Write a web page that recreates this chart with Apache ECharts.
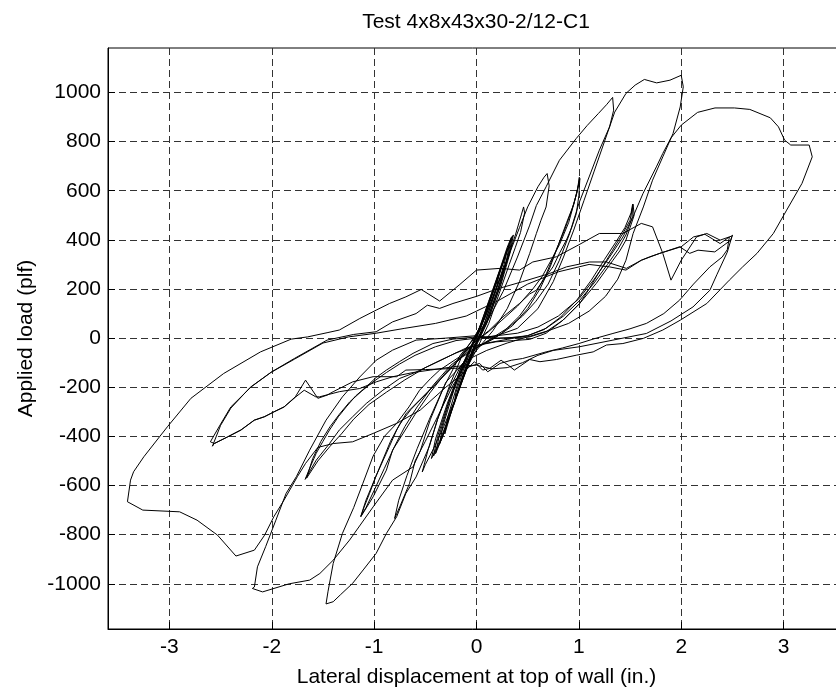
<!DOCTYPE html>
<html>
<head>
<meta charset="utf-8">
<title>Test 4x8x43x30-2/12-C1</title>
<script src="https://cdn.jsdelivr.net/npm/echarts@6.0.0/dist/echarts.min.js"></script>
<style>
  html, body { margin: 0; padding: 0; background: #fff; }
  #chart { width: 836px; height: 694px; }
</style>
</head>
<body>
<div id="chart"></div>
<script>
// tick labels
const xTicks = [-3, -2, -1, 0, 1, 2, 3]
const yTicks = [-1000, -800, -600, -400, -200, 0, 200, 400, 600, 800, 1000]

// load (plf) vs displacement (in.), one array per cycle group
const smallCycles = [
  [0, 0], [0.06, 60], [0.12, 140], [0.18, 210], [0.22, 260], [0.2, 215], [0.12, 110], [0.04, 20],
  [-0.04, -50], [-0.1, -120], [-0.17, -200], [-0.22, -270], [-0.2, -220], [-0.12, -120], [-0.04, -30],
  [0.04, 40], [0.12, 140], [0.2, 235], [0.27, 320], [0.3, 360], [0.27, 300], [0.18, 180], [0.08, 60],
  [-0.02, -30], [-0.1, -110], [-0.18, -210], [-0.26, -320], [-0.31, -390], [-0.28, -320], [-0.18, -180],
  [-0.08, -60], [0.02, 30], [0.12, 150], [0.22, 270], [0.3, 370], [0.34, 410], [0.31, 340], [0.22, 210],
  [0.1, 70], [0, -20], [-0.1, -120], [-0.2, -240], [-0.3, -360], [-0.36, -430], [-0.33, -360],
  [-0.22, -210], [-0.1, -80], [0, 10], [0.12, 150], [0.24, 290], [0.33, 395], [0.36, 420], [0.33, 350],
  [0.24, 220], [0.12, 80], [0.02, -10], [-0.1, -130], [-0.22, -270], [-0.32, -390], [-0.4, -470],
  [-0.36, -390], [-0.26, -250], [-0.12, -100], [0, 10]
]
const smallCycles2 = [
  [0, 0], [0.1, 110], [0.2, 230], [0.28, 330], [0.32, 380], [0.29, 310], [0.2, 190], [0.1, 70],
  [0, -20], [-0.12, -150], [-0.24, -290], [-0.34, -410], [-0.42, -480], [-0.38, -400], [-0.28, -270],
  [-0.16, -130], [-0.04, -20], [0.08, 90], [0.2, 240], [0.3, 360], [0.35, 415], [0.32, 345],
  [0.22, 200], [0.1, 60], [-0.02, -40], [-0.14, -170], [-0.26, -310], [-0.36, -420], [-0.44, -490],
  [-0.4, -410], [-0.28, -260], [-0.14, -110], [0, 0]
]
const cycle05 = [
  [0, 10], [0.1, 100], [0.2, 210], [0.3, 320], [0.38, 420], [0.44, 505], [0.46, 534], [0.47, 510],
  [0.43, 430], [0.38, 370], [0.32, 300], [0.22, 180], [0.12, 60], [0.02, -30], [-0.08, -110],
  [-0.2, -240], [-0.32, -360], [-0.42, -450], [-0.5, -515], [-0.53, -545], [-0.47, -450],
  [-0.38, -330], [-0.26, -190], [-0.14, -70], [0, 20]
]
const cycle07 = [
  [0, 20], [0.08, 80], [0.18, 190], [0.3, 320], [0.42, 450], [0.5, 534], [0.6, 616], [0.66, 655],
  [0.69, 670], [0.71, 620], [0.68, 534], [0.63, 480], [0.585, 426], [0.52, 345], [0.42, 230],
  [0.3, 120], [0.16, 30], [0.02, -40], [-0.1, -100], [-0.24, -200], [-0.38, -320], [-0.5, -420],
  [-0.6, -500], [-0.654, -591], [-0.75, -687], [-0.8, -734], [-0.76, -660], [-0.68, -560],
  [-0.58, -450], [-0.46, -330], [-0.32, -200], [-0.16, -70], [0, 10]
]
const cycle13 = [
  [0, 10], [0.12, 80], [0.26, 190], [0.4, 330], [0.52, 460], [0.585, 540], [0.68, 616], [0.81, 724],
  [0.975, 813], [1.08, 865], [1.19, 914], [1.27, 950], [1.33, 980], [1.34, 928], [1.3, 860],
  [1.2, 765], [1.1, 656], [1.0, 548], [0.91, 426], [0.81, 317], [0.7, 220], [0.58, 150], [0.45, 90],
  [0.3, 40], [0.15, 0], [0, -40], [-0.15, -110], [-0.28, -220], [-0.38, -330], [-0.46, -440],
  [-0.59, -565], [-0.69, -632], [-0.78, -727], [-0.88, -795], [-0.98, -876], [-1.1, -940],
  [-1.21, -998], [-1.33, -1045], [-1.4, -1073], [-1.47, -1082], [-1.45, -1030], [-1.4, -917],
  [-1.31, -795], [-1.2, -690], [-1.11, -591], [-1.01, -480], [-0.9, -400], [-0.78, -347],
  [-0.66, -280], [-0.556, -212], [-0.45, -165], [-0.36, -130], [-0.165, -76], [0, -8]
]
const trail10a = [
  [0, -8], [0.12, 30], [0.26, 87], [0.42, 141], [0.52, 180], [0.585, 195], [0.66, 240], [0.747, 290],
  [0.81, 345], [0.878, 399], [0.93, 450], [0.976, 508], [1.0, 580], [1.01, 650], [0.99, 610],
  [0.95, 545], [0.88, 470], [0.8, 380], [0.72, 290], [0.62, 200], [0.5, 120], [0.35, 50], [0.18, 0],
  [0, -40], [-0.15, -80], [-0.3, -140], [-0.45, -220], [-0.6, -310], [-0.72, -390], [-0.82, -456],
  [-0.88, -537], [-1.01, -646], [-1.13, -727], [-1.14, -734], [-1.1, -690], [-1.045, -632],
  [-0.98, -560], [-0.915, -500], [-0.85, -440], [-0.78, -374], [-0.686, -306], [-0.556, -252],
  [-0.426, -198], [-0.263, -130], [-0.12, -60], [0, -10]
]
const trail10b = [
  [0, -10], [0.1, 20], [0.24, 70], [0.4, 130], [0.55, 200], [0.64, 250], [0.72, 310], [0.81, 380],
  [0.9, 470], [0.96, 560], [1.0, 630], [1.005, 655], [0.98, 590], [0.93, 520], [0.86, 440],
  [0.77, 350], [0.68, 260], [0.56, 170], [0.42, 90], [0.25, 20], [0.08, -20], [-0.08, -55],
  [-0.25, -110], [-0.42, -190], [-0.58, -280], [-0.7, -360], [-0.8, -440], [-0.9, -530],
  [-1.0, -620], [-1.08, -690], [-1.13, -725], [-1.08, -660], [-1.0, -580], [-0.92, -500],
  [-0.84, -420], [-0.75, -350], [-0.64, -290], [-0.5, -230], [-0.36, -170], [-0.2, -100],
  [-0.06, -40], [0.05, 0]
]
const cycle20 = [
  [0.05, 0], [0.2, 10], [0.4, 40], [0.6, 120], [0.75, 230], [0.85, 330], [0.95, 440], [1.05, 560],
  [1.15, 680], [1.25, 800], [1.35, 920], [1.46, 996], [1.55, 1030], [1.64, 1053], [1.76, 1039],
  [1.89, 1050], [2.0, 1070], [2.02, 1023], [1.99, 941], [1.92, 833], [1.82, 738], [1.72, 643],
  [1.63, 534], [1.53, 426], [1.46, 317], [1.38, 240], [1.26, 170], [1.1, 110], [0.9, 60], [0.7, 30],
  [0.5, 5], [0.3, -20], [0.1, -50], [-0.1, -90], [-0.3, -180], [-0.45, -330], [-0.55, -460],
  [-0.62, -524], [-0.82, -578], [-1.01, -687], [-1.24, -822], [-1.4, -904], [-1.53, -958],
  [-1.63, -985], [-1.83, -1000], [-2.09, -1033], [-2.19, -1019], [-2.17, -1013], [-2.14, -931],
  [-2.06, -849], [-1.96, -741], [-1.86, -632], [-1.76, -564], [-1.63, -456], [-1.47, -334],
  [-1.31, -239], [-1.14, -158], [-0.98, -90], [-0.82, -49], [-0.59, -8], [-0.3, 0], [0, 10]
]
const trail15a = [
  [0, 10], [0.19, -1], [0.36, 3], [0.52, 5], [0.68, 26], [0.845, 73], [1.008, 141], [1.1, 200],
  [1.2, 270], [1.27, 317], [1.33, 358], [1.43, 426], [1.5, 480], [1.53, 545], [1.54, 500],
  [1.5, 450], [1.46, 399], [1.4, 355], [1.333, 317], [1.171, 223], [1.008, 141], [0.845, 73],
  [0.68, 20], [0.52, -5], [0.36, -10], [0.19, -15], [0, -30], [-0.2, -60], [-0.4, -100],
  [-0.6, -140], [-0.75, -164], [-0.915, -212], [-1.077, -266], [-1.21, -320], [-1.34, -374],
  [-1.436, -429], [-1.566, -497], [-1.674, -575], [-1.62, -520], [-1.566, -469], [-1.5, -420],
  [-1.436, -374], [-1.35, -320], [-1.273, -280], [-1.18, -235], [-1.077, -198], [-0.98, -160],
  [-0.88, -130], [-0.75, -95], [-0.62, -62], [-0.426, -22], [-0.23, -4], [0, 5]
]
const trail15b = [
  [0, 5], [0.1, 0], [0.3, 0], [0.5, 10], [0.66, 35], [0.82, 85], [0.98, 155], [1.12, 235],
  [1.25, 320], [1.36, 390], [1.45, 450], [1.51, 510], [1.525, 545], [1.52, 490], [1.46, 420],
  [1.38, 360], [1.28, 300], [1.15, 225], [1.0, 150], [0.85, 90], [0.68, 40], [0.5, 10], [0.3, -5],
  [0.1, -20], [-0.1, -40], [-0.3, -80], [-0.5, -120], [-0.7, -170], [-0.88, -220], [-1.05, -270],
  [-1.2, -330], [-1.32, -390], [-1.43, -440], [-1.55, -500], [-1.66, -570], [-1.6, -490],
  [-1.52, -420], [-1.43, -360], [-1.34, -310], [-1.24, -260], [-1.12, -215], [-1.0, -175],
  [-0.88, -140], [-0.75, -105], [-0.6, -70], [-0.4, -35], [-0.2, -10], [0, 0]
]
const cycle33 = [
  [0, 0], [0.2, 10], [0.4, 20], [0.6, 45], [0.8, 90], [1.0, 160], [1.15, 240], [1.3, 330],
  [1.431, 412], [1.529, 494], [1.627, 589], [1.757, 697], [1.82, 752], [1.9, 815], [2.0, 867],
  [2.16, 919], [2.33, 937], [2.52, 937], [2.67, 931], [2.87, 897], [2.95, 860], [3.01, 806],
  [3.07, 786], [3.25, 786], [3.28, 738], [3.18, 630], [3.03, 521], [2.9, 426], [2.74, 345],
  [2.6, 290], [2.47, 236], [2.25, 141], [1.99, 73], [1.82, 33], [1.63, -1], [1.43, -22],
  [1.27, -28], [1.14, -56], [0.98, -69], [0.78, -87], [0.62, -96], [0.52, -87], [0.37, -130],
  [0.31, -110], [0.24, -90], [0.13, -123], [0.06, -130], [-0.02, -96], [-0.15, -150],
  [-0.3, -200], [-0.55, -293], [-0.78, -347], [-1.01, -388], [-1.21, -422], [-1.4, -429],
  [-1.55, -445], [-1.67, -510], [-1.75, -564], [-1.88, -659], [-1.98, -727], [-2.07, -802],
  [-2.17, -863], [-2.35, -887], [-2.53, -802], [-2.73, -741], [-2.9, -707], [-3.26, -700],
  [-3.41, -666], [-3.38, -578], [-3.35, -544], [-3.25, -483], [-3.02, -361], [-2.79, -245],
  [-2.47, -144], [-2.11, -56], [-1.81, -4], [-1.65, 5], [-1.46, 22], [-1.34, 33], [-1.14, 80],
  [-0.98, 114], [-0.85, 141], [-0.69, 168], [-0.54, 198], [-0.36, 151], [-0.17, 216], [0, 277],
  [0.23, 284], [0.42, 277], [0.55, 310], [0.78, 331], [1.0, 380], [1.2, 426], [1.43, 426],
  [1.61, 467], [1.72, 453], [1.82, 345], [1.9, 236], [2.0, 317], [2.15, 412], [2.25, 426],
  [2.38, 399], [2.47, 412]
]
const trail25a = [
  [2.47, 412], [2.45, 360], [2.4, 330], [2.28, 290], [2.12, 220], [1.985, 155], [1.83, 100],
  [1.66, 60], [1.5, 38], [1.333, 19], [1.17, 0], [1.0, -22], [0.84, -40], [0.68, -56], [0.45, -83],
  [0.34, -90], [0.23, -103], [0.11, -137], [0.03, -103], [-0.1, -120], [-0.3, -125], [-0.5, -128],
  [-0.69, -130], [-0.78, -157], [-1.01, -157], [-1.21, -178], [-1.4, -218], [-1.46, -232],
  [-1.55, -245], [-1.67, -171], [-1.77, -239], [-1.88, -280], [-1.98, -300], [-2.07, -320],
  [-2.17, -334], [-2.3, -374], [-2.43, -402], [-2.56, -429], [-2.6, -422], [-2.5, -350],
  [-2.4, -280], [-2.2, -198], [-2.0, -137], [-1.78, -83], [-1.46, -8], [-1.2, 15], [-0.98, 26],
  [-0.82, 66], [-0.59, 100], [-0.48, 134], [-0.36, 121], [-0.23, 141], [0, 170], [0.2, 200],
  [0.45, 230], [0.714, 263], [0.878, 290], [1.105, 310], [1.27, 310], [1.464, 284], [1.61, 317],
  [1.692, 331], [1.79, 345], [1.985, 372], [2.083, 345], [2.164, 358], [2.328, 351], [2.484, 399],
  [2.5, 420]
]
const trail25b = [
  [2.5, 420], [2.45, 350], [2.35, 260], [2.28, 195], [2.115, 127], [1.9, 70], [1.66, 19],
  [1.333, -8], [1.008, -35], [0.75, -50], [0.6, -70], [0.45, -100], [0.3, -120], [0.15, -125],
  [0, -110], [-0.2, -115], [-0.45, -130], [-0.62, -140], [-0.817, -157], [-0.98, -178],
  [-1.14, -205], [-1.34, -218], [-1.534, -239], [-1.57, -239], [-1.683, -212], [-1.765, -239],
  [-1.879, -280], [-1.977, -300], [-2.074, -320], [-2.172, -334], [-2.303, -374], [-2.433, -402],
  [-2.563, -429], [-2.58, -440], [-2.5, -355], [-2.4, -285], [-2.21, -200], [-2.01, -140],
  [-1.78, -86], [-1.5, -20], [-1.25, 5], [-0.98, 20], [-0.7, 40], [-0.4, 60], [-0.1, 90],
  [0.2, 150], [0.5, 220], [0.8, 270], [1.1, 300], [1.3, 290], [1.46, 277], [1.61, 317],
  [1.79, 345], [2.0, 372], [2.12, 412], [2.23, 423], [2.38, 385], [2.47, 412], [2.49, 415]
]

const cycles = [smallCycles, smallCycles2, cycle05, cycle07, cycle13, trail10a, trail10b, cycle20,
  trail15a, trail15b, cycle33, trail25a, trail25b]

const fontFamily = '"Liberation Sans", Arial, Helvetica, sans-serif'
const gridLine = { show: true, lineStyle: { color: '#333', width: 1, type: [7, 4] } }

const chart = echarts.init(document.getElementById('chart'), null, { renderer: 'canvas' })

chart.setOption({
  animation: false,
  backgroundColor: '#ffffff',
  title: {
    text: 'Test 4x8x43x30-2/12-C1',
    left: 476,
    top: 12,
    padding: 0,
    textAlign: 'center',
    textStyle: { fontFamily, fontSize: 21, fontWeight: 'normal', color: '#000' }
  },
  grid: {
    left: 108,
    top: 48,
    width: 737,
    height: 581,
    show: true,
    borderColor: '#000',
    borderWidth: 1,
    containLabel: false,
    outerBoundsMode: 'none'
  },
  xAxis: {
    type: 'value',
    min: -3.6,
    max: 3.6,
    name: 'Lateral displacement at top of wall (in.)',
    nameLocation: 'middle',
    nameGap: 38,
    nameTextStyle: { fontFamily, fontSize: 21, color: '#000' },
    axisLine: { show: true, onZero: false, lineStyle: { color: '#000', width: 1 } },
    axisTick: { show: true, inside: true, length: 7, customValues: xTicks, lineStyle: { color: '#000' } },
    axisLabel: { customValues: xTicks, margin: 8, fontFamily, fontSize: 21, color: '#000', formatter: v => String(v) },
    splitLine: gridLine
  },
  yAxis: {
    type: 'value',
    min: -1184,
    max: 1181,
    name: 'Applied load (plf)',
    nameLocation: 'middle',
    nameGap: 69,
    nameTextStyle: { fontFamily, fontSize: 21, color: '#000' },
    axisLine: { show: true, onZero: false, lineStyle: { color: '#000', width: 1 } },
    axisTick: { show: true, inside: true, length: 7, customValues: yTicks, lineStyle: { color: '#000' } },
    axisLabel: { customValues: yTicks, margin: 7, fontFamily, fontSize: 21, color: '#000', formatter: v => String(v) },
    splitLine: gridLine
  },
  series: cycles.map(d => ({
    type: 'line',
    data: d,
    symbol: 'none',
    showSymbol: false,
    silent: true,
    lineStyle: { color: '#000', width: 1 },
    z: 3
  }))
})
</script>
</body>
</html>
